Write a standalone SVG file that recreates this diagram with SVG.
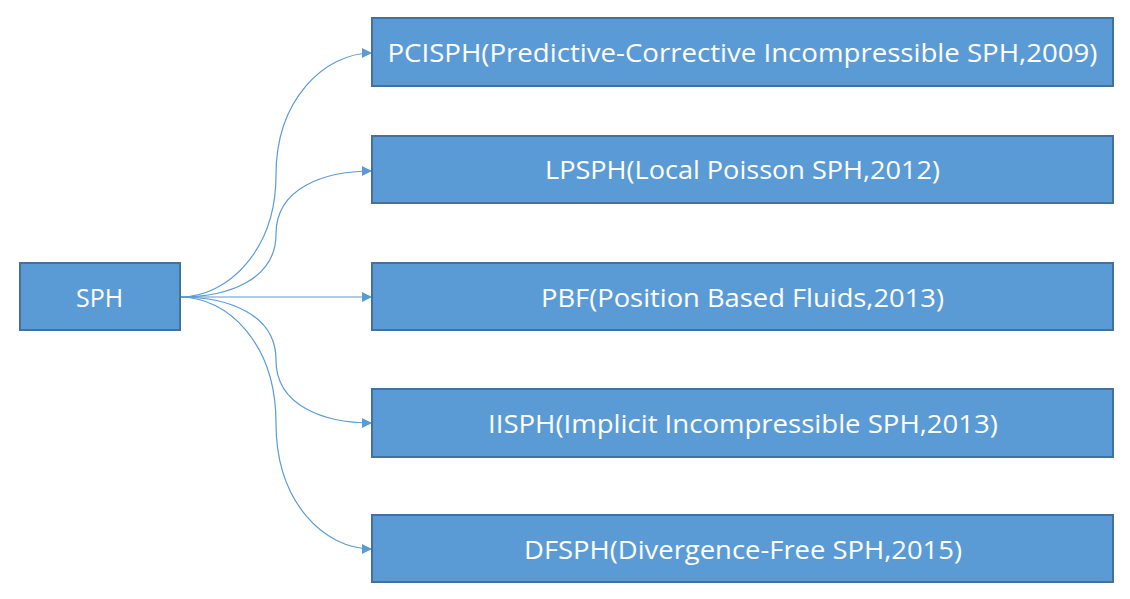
<svg xmlns="http://www.w3.org/2000/svg" width="1130" height="599" viewBox="0 0 1130 599">
<style>
.box{fill:#5B9BD5;stroke:#41719C;stroke-width:2}
.lbl{fill:#fff;font-family:"Open Sans","Liberation Sans",sans-serif;font-size:25px;text-anchor:middle}
.con{fill:none;stroke:#5B9BD5;stroke-width:1.2}
</style>
<defs>
<marker id="arr" viewBox="0 0 10 10" refX="10" refY="5" markerWidth="10" markerHeight="10" markerUnits="userSpaceOnUse" orient="auto">
<path d="M0,0 L10,5 L0,10 z" fill="#5B9BD5"/>
</marker>
</defs>
<rect width="1130" height="599" fill="#fff"/>
<g id="connectors">
<path class="con" marker-end="url(#arr)" d="M180,297 C228,297 276,250 276,175 C276,100 324,53 372,53"/>
<path class="con" marker-end="url(#arr)" d="M180,297 C228,297 276,280 276,234 C276,188 324,171 372,171"/>
<path class="con" marker-end="url(#arr)" d="M180,297 L372,297"/>
<path class="con" marker-end="url(#arr)" d="M180,297 C228,297 276,314 276,360 C276,406 324,423 372,423"/>
<path class="con" marker-end="url(#arr)" d="M180,297 C228,297 276,344 276,423 C276,502 324,549 372,549"/>
</g>
<g id="sph"><rect class="box" x="20" y="263" width="160" height="67"/><text class="lbl" x="99.5" y="307" textLength="47" lengthAdjust="spacingAndGlyphs">SPH</text></g>
<g id="pcisph"><rect class="box" x="372" y="18" width="741" height="68"/><text class="lbl" x="742.5" y="62" textLength="710" lengthAdjust="spacingAndGlyphs">PCISPH(Predictive-Corrective Incompressible SPH,2009)</text></g>
<g id="lpsph"><rect class="box" x="372" y="136" width="741" height="67"/><text class="lbl" x="742.5" y="179" textLength="395" lengthAdjust="spacingAndGlyphs">LPSPH(Local Poisson SPH,2012)</text></g>
<g id="pbf"><rect class="box" x="372" y="263" width="741" height="67"/><text class="lbl" x="742.5" y="307" textLength="403" lengthAdjust="spacingAndGlyphs">PBF(Position Based Fluids,2013)</text></g>
<g id="iisph"><rect class="box" x="372" y="389" width="741" height="68"/><text class="lbl" x="743" y="433" textLength="510" lengthAdjust="spacingAndGlyphs">IISPH(Implicit Incompressible SPH,2013)</text></g>
<g id="dfsph"><rect class="box" x="372" y="515" width="741" height="67"/><text class="lbl" x="743" y="559" textLength="438" lengthAdjust="spacingAndGlyphs">DFSPH(Divergence-Free SPH,2015)</text></g>
</svg>
